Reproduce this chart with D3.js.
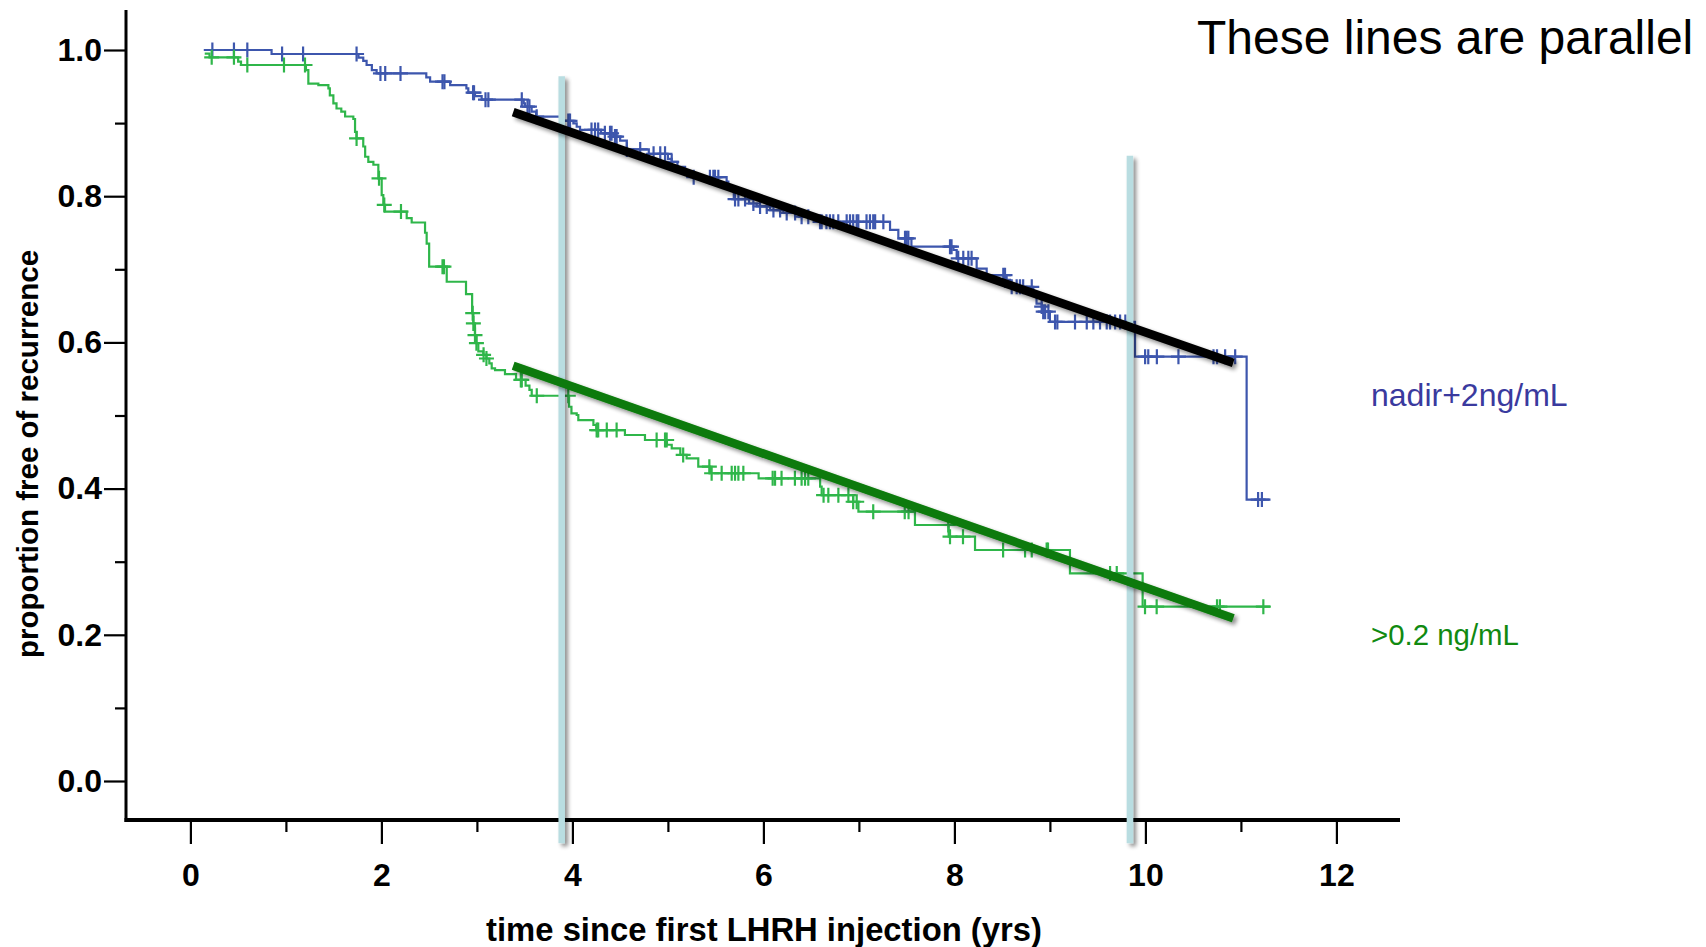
<!DOCTYPE html>
<html>
<head>
<meta charset="utf-8">
<script src="https://cdn.jsdelivr.net/npm/d3@7/dist/d3.min.js"></script>
<style>
  html, body { margin: 0; padding: 0; background: #fff; }
  svg { display: block; }
  text { font-family: "Liberation Sans", Arial, Helvetica, sans-serif; }
</style>
</head>
<body>
<svg id="chart" width="1706" height="947"></svg>
<script>
// Kaplan-Meier steps: [time (yrs), proportion free of recurrence after the step]
const blueSteps = [
  [0.14, 1.0], [0.85, 0.9945], [1.76, 0.9895], [1.81, 0.985], [1.845, 0.9795],
  [1.90, 0.9726], [1.95, 0.968], [2.47, 0.9626], [2.51, 0.9567], [2.72, 0.952],
  [2.89, 0.9476], [2.91, 0.9416], [2.98, 0.937], [3.05, 0.932], [3.49, 0.927],
  [3.504, 0.9225], [3.573, 0.9157], [3.62, 0.9088], [3.90, 0.903], [4.01, 0.8997],
  [4.045, 0.895], [4.08, 0.8906], [4.30, 0.886], [4.43, 0.8815], [4.50, 0.876],
  [4.57, 0.864], [4.80, 0.858], [5.00, 0.851], [5.04, 0.847], [5.10, 0.840],
  [5.18, 0.833], [5.24, 0.826], [5.615, 0.82], [5.633, 0.8085], [5.69, 0.796],
  [5.85, 0.790], [5.93, 0.786], [6.07, 0.781], [6.21, 0.777], [6.37, 0.772],
  [6.55, 0.765], [7.326, 0.7538], [7.413, 0.7424], [7.55, 0.731], [7.99, 0.7264],
  [8.024, 0.715], [8.233, 0.701], [8.338, 0.692], [8.547, 0.6854], [8.582, 0.676],
  [8.826, 0.669], [8.86, 0.653], [8.914, 0.649], [8.93, 0.642], [9.00, 0.628],
  [9.891, 0.5805], [11.06, 0.385], [11.31, 0.385]
];
const blueCensor = [
  0.23, 0.456, 0.596, 0.96, 1.18, 1.74, 1.99, 2.04, 2.20, 2.64, 2.66, 2.96, 2.97,
  3.09, 3.12, 3.47, 3.53, 3.55, 3.626, 3.957, 3.975, 4.2, 4.237, 4.27, 4.34, 4.394,
  4.41, 4.446, 4.463, 4.57, 4.71, 4.85, 4.92, 4.97, 5.04, 5.27, 5.44, 5.476, 5.493,
  5.528, 5.703, 5.738, 5.808, 5.895, 5.965, 6.035, 6.105, 6.175, 6.244, 6.332, 6.4,
  6.47, 6.593, 6.61, 6.66, 6.697, 6.732, 6.784, 6.872, 6.907, 6.94, 6.977, 6.994,
  7.08, 7.116, 7.15, 7.17, 7.256, 7.483, 7.5, 7.518, 7.954, 7.97, 8.04, 8.093,
  8.146, 8.18, 8.512, 8.53, 8.6, 8.652, 8.687, 8.72, 8.81, 8.914, 8.93, 8.95,
  8.984, 9.054, 9.078, 9.263, 9.386, 9.455, 9.525, 9.595, 9.63, 9.683, 9.735,
  9.79, 9.997, 10.03, 10.12, 10.346, 10.713, 10.75, 10.835, 10.94, 11.18, 11.22
];
const greenSteps = [
  [0.15, 0.995], [0.20, 0.99], [0.50, 0.984], [0.53, 0.9795], [1.21, 0.9726],
  [1.235, 0.954], [1.34, 0.952], [1.445, 0.9476], [1.46, 0.938], [1.497, 0.927],
  [1.53, 0.92], [1.58, 0.9156], [1.62, 0.909], [1.706, 0.9056], [1.724, 0.888],
  [1.74, 0.879], [1.81, 0.868], [1.83, 0.854], [1.863, 0.847], [1.916, 0.843],
  [1.968, 0.8244], [2.003, 0.8016], [2.02, 0.788], [2.038, 0.779], [2.265, 0.770],
  [2.317, 0.764], [2.457, 0.75], [2.474, 0.735], [2.50, 0.7036], [2.684, 0.683],
  [2.886, 0.666], [2.95, 0.64], [2.963, 0.626], [2.98, 0.61], [2.995, 0.599],
  [3.015, 0.5877], [3.067, 0.583], [3.10, 0.578], [3.13, 0.5713], [3.155, 0.5645],
  [3.19, 0.562], [3.294, 0.5567], [3.41, 0.5486], [3.51, 0.541], [3.55, 0.535],
  [3.574, 0.527], [3.965, 0.512], [3.99, 0.503], [4.045, 0.5007], [4.062, 0.4938],
  [4.22, 0.487], [4.25, 0.48], [4.55, 0.4733], [4.76, 0.4665], [4.99, 0.46],
  [5.04, 0.455], [5.13, 0.446], [5.196, 0.4414], [5.318, 0.43], [5.44, 0.421],
  [5.95, 0.414], [6.594, 0.4026], [6.61, 0.391], [6.94, 0.382], [6.995, 0.3685],
  [7.587, 0.3502], [7.94, 0.3343], [8.216, 0.316], [9.21, 0.284], [9.971, 0.2385],
  [11.305, 0.2385]
];
const greenCensor = [
  0.223, 0.456, 0.596, 0.98, 1.20, 1.74, 1.975, 2.03, 2.205, 2.64, 2.655, 2.956,
  2.963, 2.98, 2.995, 3.07, 3.10, 3.46, 3.47, 3.627, 3.957, 4.254, 4.27, 4.36,
  4.463, 4.882, 4.97, 4.987, 5.16, 5.434, 5.458, 5.563, 5.668, 5.703, 5.738, 5.79,
  6.097, 6.122, 6.19, 6.33, 6.4, 6.436, 6.47, 6.63, 6.68, 6.785, 6.89, 6.94, 6.977,
  7.15, 7.48, 7.52, 7.936, 7.954, 8.09, 8.51, 8.74, 8.81, 8.966, 8.98, 9.63, 9.70,
  9.996, 10.118, 10.75, 10.78, 11.235
];

// Straight trend lines laid over the curves: [t0, v0, t1, v1]
const trendBlue = [3.38, 0.915, 10.92, 0.572];
const trendGreen = [3.38, 0.568, 10.92, 0.2225];
// Reference times marked by pale vertical bars: [time, top value]
const markers = [[3.888, 0.964], [9.838, 0.8555]];

const xMajor = [0, 2, 4, 6, 8, 10, 12];
const xMinor = [1, 3, 5, 7, 9, 11];
const yMajor = [0, 0.2, 0.4, 0.6, 0.8, 1.0];
const yMinor = [0.1, 0.3, 0.5, 0.7, 0.9];

const svg = d3.select("#chart");
const x = d3.scaleLinear().domain([0, 12]).range([190.4, 1336.4]);
const y = d3.scaleLinear().domain([0, 1]).range([781, 50]);
const axisX = 126, axisY = 820;

// soft drop shadow; user-space region so thin vertical bars keep their shadow too
const defs = svg.append("defs");
const shadow = defs.append("filter").attr("id", "shadow")
  .attr("filterUnits", "userSpaceOnUse")
  .attr("x", 0).attr("y", 0).attr("width", 1706).attr("height", 947);
shadow.append("feGaussianBlur").attr("in", "SourceAlpha").attr("stdDeviation", 2.2).attr("result", "b");
shadow.append("feOffset").attr("in", "b").attr("dx", 3).attr("dy", 3).attr("result", "o");
shadow.append("feComponentTransfer").attr("in", "o").attr("result", "s")
  .append("feFuncA").attr("type", "linear").attr("slope", 0.45);
const merge = shadow.append("feMerge");
merge.append("feMergeNode").attr("in", "s");
merge.append("feMergeNode").attr("in", "SourceGraphic");

// ---- axes ----
const labelFont = "'Liberation Sans', Arial, sans-serif";
const yAxis = d3.axisLeft(y).tickValues(yMajor).tickFormat(d3.format(".1f"))
  .tickSize(22).tickPadding(2);
const gy = svg.append("g").attr("transform", `translate(${axisX},0)`).call(yAxis);
gy.select(".domain").remove();
gy.selectAll(".tick line").attr("stroke", "#000").attr("stroke-width", 2.2);
gy.selectAll(".tick text").attr("fill", "#000").attr("font-size", 32)
  .attr("font-weight", "bold").attr("font-family", labelFont);
const gyMinor = svg.append("g").attr("transform", `translate(${axisX},0)`)
  .call(d3.axisLeft(y).tickValues(yMinor).tickSize(11).tickFormat(""));
gyMinor.select(".domain").remove();
gyMinor.selectAll(".tick line").attr("stroke", "#000").attr("stroke-width", 2.2);

const xAxis = d3.axisBottom(x).tickValues(xMajor).tickFormat(d3.format("d"))
  .tickSize(24).tickPadding(19);
const gx = svg.append("g").attr("transform", `translate(0,${axisY})`).call(xAxis);
gx.select(".domain").remove();
gx.selectAll(".tick line").attr("stroke", "#000").attr("stroke-width", 2.2);
gx.selectAll(".tick text").attr("fill", "#000").attr("font-size", 32)
  .attr("font-weight", "bold").attr("font-family", labelFont);
const gxMinor = svg.append("g").attr("transform", `translate(0,${axisY})`)
  .call(d3.axisBottom(x).tickValues(xMinor).tickSize(12).tickFormat(""));
gxMinor.select(".domain").remove();
gxMinor.selectAll(".tick line").attr("stroke", "#000").attr("stroke-width", 2.2);

svg.append("line").attr("x1", axisX).attr("x2", axisX).attr("y1", 10).attr("y2", axisY + 2)
  .attr("stroke", "#000").attr("stroke-width", 3);
svg.append("line").attr("x1", axisX - 1.5).attr("x2", 1400).attr("y1", axisY).attr("y2", axisY)
  .attr("stroke", "#000").attr("stroke-width", 4);

svg.append("text").attr("x", 764).attr("y", 941).attr("text-anchor", "middle")
  .attr("font-size", 32.8).attr("font-weight", "bold")
  .text("time since first LHRH injection (yrs)");
svg.append("text").attr("transform", "translate(38,454) rotate(-90)")
  .attr("text-anchor", "middle").attr("font-size", 29.5).attr("font-weight", "bold")
  .text("proportion free of recurrence");

// ---- survival curves ----
const stepLine = d3.line().x(d => x(d[0])).y(d => y(d[1])).curve(d3.curveStepAfter);
function valueAt(steps, t) {
  let v = steps[0][1];
  for (const s of steps) { if (s[0] <= t) v = s[1]; else break; }
  return v;
}
function drawCurve(steps, censor, color) {
  const g = svg.append("g");
  g.append("path").datum(steps).attr("d", stepLine)
    .attr("fill", "none").attr("stroke", color).attr("stroke-width", 2.2);
  const h = 7.5;
  g.selectAll("path.censor").data(censor).join("path").attr("class", "censor")
    .attr("d", t => {
      const cx = x(t), cy = y(valueAt(steps, t));
      return `M${cx - h},${cy}H${cx + h}M${cx},${cy - h}V${cy + h}`;
    })
    .attr("stroke", color).attr("stroke-width", 2.2).attr("fill", "none");
}
drawCurve(blueSteps, blueCensor, "#3d56ad");
drawCurve(greenSteps, greenCensor, "#2fb64a");

// ---- reference bars ----
svg.append("g").selectAll("line").data(markers).join("line")
  .attr("x1", d => x(d[0])).attr("x2", d => x(d[0]))
  .attr("y1", d => y(d[1])).attr("y2", y(-0.085))
  .attr("stroke", "#b9dde1").attr("stroke-width", 6.5)
  .attr("filter", "url(#shadow)");

// ---- trend lines ----
svg.append("g").selectAll("line").data([[trendBlue, "#000"], [trendGreen, "#087a08"]]).join("line")
  .attr("x1", d => x(d[0][0])).attr("y1", d => y(d[0][1]))
  .attr("x2", d => x(d[0][2])).attr("y2", d => y(d[0][3]))
  .attr("stroke", d => d[1]).attr("stroke-width", 8.5)
  .attr("filter", "url(#shadow)");

// ---- annotations ----
svg.append("text").attr("x", 1197).attr("y", 54).attr("font-size", 48).attr("fill", "#000")
  .text("These lines are parallel");
svg.append("text").attr("x", 1371).attr("y", 406).attr("font-size", 32).attr("fill", "#3a3a9e")
  .text("nadir+2ng/mL");
svg.append("text").attr("x", 1371).attr("y", 645).attr("font-size", 29.4).attr("fill", "#118a11")
  .text(">0.2 ng/mL");
</script>
</body>
</html>
